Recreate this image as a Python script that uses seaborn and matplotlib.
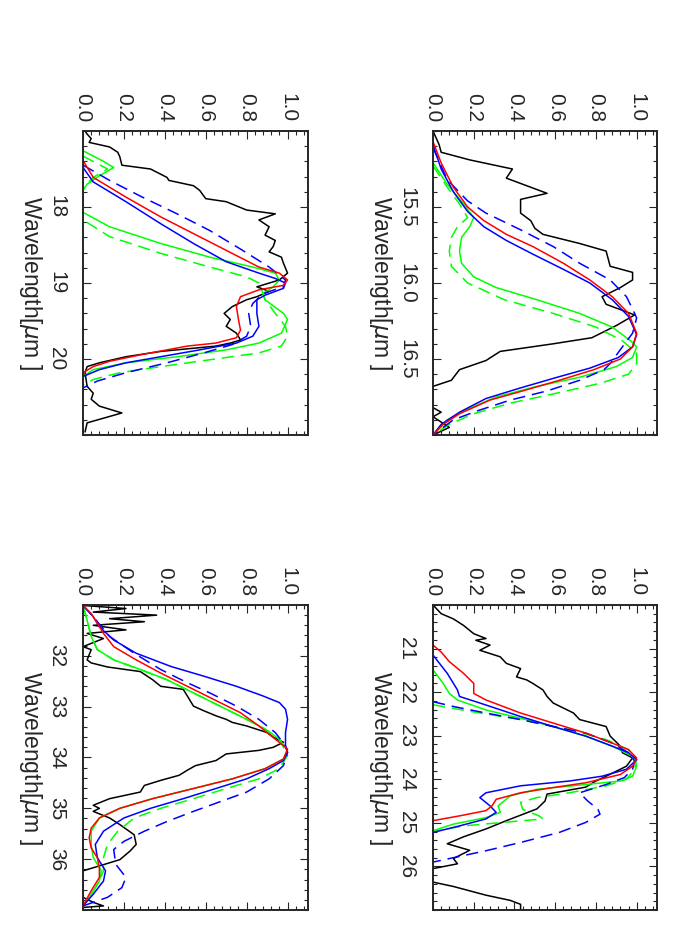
import matplotlib
matplotlib.use('Agg')
import matplotlib.pyplot as plt
from matplotlib.ticker import MultipleLocator, FormatStrFormatter
import seaborn as sns

sns.set_style('ticks')
plt.rcParams['font.family'] = ['Liberation Sans', 'DejaVu Sans']
plt.rcParams['mathtext.fontset'] = 'dejavusans'

# ---------------- 15-17 um panel ----------------
wl15_ticks = [15.5, 16.0, 16.5]
wl15_black = [15.00, 15.09, 15.14, 15.19, 15.25, 15.31, 15.41, 15.45, 15.54, 15.59, 15.64, 15.68,
              15.74, 15.79, 15.89, 15.93, 15.98, 16.03, 16.09, 16.14, 16.18, 16.21, 16.28, 16.36,
              16.40, 16.45, 16.51, 16.57, 16.64, 16.68, 16.82, 16.85, 16.88, 16.95, 17.00]
v15_black = [0.00, 0.03, 0.04, 0.18, 0.39, 0.36, 0.56, 0.43, 0.43, 0.48, 0.50, 0.54,
             0.72, 0.85, 0.87, 0.98, 0.98, 0.92, 0.83, 0.85, 0.93, 0.99, 0.90, 0.78,
             0.59, 0.33, 0.26, 0.13, 0.09, 0.00, 0.00, 0.04, 0.00, 0.08, 0.00]
wl15_red = [15.07, 15.21, 15.37, 15.50, 15.59, 15.68, 15.76, 15.87, 15.98, 16.09, 16.20, 16.33,
            16.42, 16.50, 16.57, 16.64, 16.71, 16.77, 16.86, 16.93, 17.00]
v15_red = [0.00, 0.04, 0.10, 0.17, 0.25, 0.36, 0.49, 0.64, 0.77, 0.88, 0.96, 1.00,
           0.98, 0.92, 0.79, 0.62, 0.44, 0.28, 0.13, 0.05, 0.00]
wl15_blue = [15.09, 15.25, 15.40, 15.53, 15.63, 15.72, 15.81, 15.91, 16.00, 16.11, 16.22, 16.34,
             16.42, 16.49, 16.56, 16.62, 16.69, 16.76, 16.85, 16.93, 17.00]
v15_blue = [0.00, 0.04, 0.10, 0.17, 0.25, 0.36, 0.49, 0.64, 0.77, 0.88, 0.96, 1.00,
            0.98, 0.91, 0.77, 0.61, 0.43, 0.26, 0.13, 0.04, 0.00]
wl15_blue_d = [15.11, 15.32, 15.46, 15.54, 15.65, 15.76, 15.87, 15.98, 16.09, 16.20, 16.23,
               16.33, 16.42, 16.53, 16.57, 16.64, 16.71, 16.77, 16.84, 16.90, 17.00]
v15_blue_d = [0.00, 0.07, 0.17, 0.26, 0.43, 0.59, 0.72, 0.87, 0.95, 0.99, 1.00,
              0.98, 0.93, 0.87, 0.84, 0.72, 0.56, 0.38, 0.22, 0.10, 0.00]
wl15_green = [15.21, 15.35, 15.48, 15.57, 15.63, 15.70, 15.79, 15.87, 15.96, 16.03, 16.11, 16.20,
              16.29, 16.38, 16.42, 16.49, 16.55, 16.62, 16.68, 16.75, 16.83, 16.90, 17.00]
v15_green = [0.00, 0.07, 0.15, 0.20, 0.18, 0.14, 0.13, 0.14, 0.20, 0.31, 0.51, 0.72,
             0.88, 0.97, 1.00, 0.98, 0.90, 0.72, 0.51, 0.31, 0.17, 0.07, 0.00]
wl15_green_d = [15.23, 15.37, 15.48, 15.57, 15.63, 15.70, 15.79, 15.89, 16.00, 16.11, 16.20,
                16.29, 16.38, 16.46, 16.53, 16.60, 16.66, 16.73, 16.79, 16.86, 16.93, 17.00]
v15_green_d = [0.00, 0.07, 0.13, 0.17, 0.12, 0.09, 0.08, 0.09, 0.17, 0.35, 0.59,
               0.80, 0.93, 1.00, 1.00, 0.96, 0.82, 0.59, 0.38, 0.20, 0.08, 0.00]

# ---------------- 17-21 um panel ----------------
wl19_ticks = [18, 19, 20]
wl19_black = [17.00, 17.04, 17.10, 17.15, 17.21, 17.28, 17.34, 17.45, 17.50, 17.61, 17.65, 17.72,
              17.78, 17.89, 17.93, 18.04, 18.09, 18.17, 18.26, 18.37, 18.44, 18.52, 18.59, 18.66,
              18.74, 18.87, 18.96, 19.05, 19.11, 19.18, 19.22, 19.31, 19.40, 19.48, 19.57, 19.66,
              19.75, 19.79, 19.83, 19.90, 19.97, 20.05, 20.10, 20.18, 20.36, 20.45, 20.53, 20.62,
              20.71, 20.84, 20.96]
v19_black = [0.01, 0.02, 0.04, 0.03, 0.13, 0.17, 0.18, 0.19, 0.33, 0.41, 0.42, 0.54,
             0.57, 0.60, 0.70, 0.80, 0.94, 0.86, 0.91, 0.89, 0.94, 0.93, 0.91, 0.97,
             0.98, 1.00, 0.96, 0.85, 0.91, 0.85, 0.80, 0.73, 0.69, 0.72, 0.70, 0.75,
             0.77, 0.72, 0.65, 0.38, 0.21, 0.08, 0.02, 0.01, 0.02, 0.05, 0.04, 0.08,
             0.19, 0.02, 0.01]
wl19_red = [17.39, 17.61, 17.87, 18.13, 18.35, 18.57, 18.79, 18.87, 18.96, 19.03, 19.09, 19.18,
            19.31, 19.48, 19.62, 19.72, 19.79, 19.83, 19.94, 20.03, 20.10, 20.18]
v19_red = [0.00, 0.05, 0.21, 0.38, 0.54, 0.70, 0.86, 0.96, 1.00, 0.98, 0.86, 0.77,
           0.75, 0.76, 0.77, 0.75, 0.65, 0.51, 0.29, 0.13, 0.05, 0.00]
wl19_blue = [17.48, 17.67, 17.93, 18.22, 18.48, 18.72, 18.87, 18.94, 19.00, 19.07, 19.16, 19.22,
             19.40, 19.57, 19.70, 19.79, 19.88, 19.97, 20.05, 20.14, 20.23]
v19_blue = [0.00, 0.05, 0.21, 0.38, 0.54, 0.70, 0.86, 0.94, 0.99, 0.98, 0.89, 0.85,
            0.85, 0.86, 0.83, 0.75, 0.57, 0.38, 0.21, 0.08, 0.00]
wl19_blue_d = [17.45, 17.65, 17.87, 18.09, 18.31, 18.57, 18.79, 18.96, 19.05, 19.14, 19.27,
               19.40, 19.57, 19.70, 19.81, 19.92, 20.05, 20.18, 20.29, 20.38]
v19_blue_d = [0.00, 0.13, 0.29, 0.46, 0.62, 0.78, 0.91, 0.99, 0.98, 0.88, 0.83,
              0.81, 0.82, 0.80, 0.73, 0.59, 0.41, 0.21, 0.07, 0.00]
wl19_green = [17.26, 17.40, 17.48, 17.59, 17.70, 17.78, 18.07, 18.26, 18.48, 18.66, 18.79, 18.87,
              18.96, 19.05, 19.14, 19.22, 19.40, 19.48, 19.66, 19.79, 19.88, 19.97, 20.05,
              20.14, 20.23]
v19_green = [0.00, 0.10, 0.15, 0.08, 0.02, 0.00, 0.00, 0.13, 0.38, 0.62, 0.83, 0.94,
             0.96, 0.93, 0.88, 0.89, 0.98, 1.00, 0.97, 0.86, 0.70, 0.46, 0.21,
             0.05, 0.00]
wl19_green_d = [17.33, 17.50, 17.61, 17.74, 18.17, 18.39, 18.61, 18.79, 18.92, 19.00, 19.14,
                19.22, 19.40, 19.57, 19.70, 19.83, 19.92, 20.01, 20.10, 20.18, 20.27, 20.34]
v19_green_d = [0.00, 0.12, 0.05, 0.00, 0.00, 0.13, 0.38, 0.62, 0.80, 0.86, 0.88,
               0.89, 0.94, 0.99, 1.00, 0.97, 0.86, 0.62, 0.38, 0.18, 0.05, 0.00]

# ---------------- 20-27 um panel ----------------
wl23_ticks = [21, 22, 23, 24, 25, 26]
wl23_black = [20.00, 20.05, 20.20, 20.32, 20.47, 20.66, 20.77, 20.81, 20.92, 21.04, 21.19, 21.34,
              21.46, 21.65, 21.72, 21.80, 21.95, 22.10, 22.25, 22.48, 22.63, 22.79, 23.01, 23.24,
              23.39, 23.51, 23.70, 23.93, 24.04, 24.18, 24.34, 24.50, 24.68, 24.95, 25.14, 25.32,
              25.48, 25.63, 25.82, 25.94, 26.05, 26.36, 26.46, 26.66, 26.78, 26.87, 26.99]
v23_black = [0.00, 0.01, 0.04, 0.10, 0.15, 0.20, 0.26, 0.21, 0.28, 0.23, 0.33, 0.36,
             0.43, 0.41, 0.46, 0.49, 0.54, 0.56, 0.59, 0.69, 0.72, 0.85, 0.87, 0.92,
             0.93, 0.98, 0.95, 0.85, 0.80, 0.75, 0.56, 0.55, 0.51, 0.36, 0.26, 0.15,
             0.07, 0.18, 0.10, 0.12, 0.00, 0.00, 0.10, 0.26, 0.38, 0.43, 0.43]
wl23_red = [20.92, 21.08, 21.30, 21.57, 21.80, 22.03, 22.18, 22.48, 22.71, 22.94, 23.17, 23.32,
            23.51, 23.70, 23.89, 24.08, 24.19, 24.31, 24.46, 24.61, 24.72, 24.84, 24.95]
v23_red = [0.00, 0.04, 0.08, 0.15, 0.20, 0.20, 0.26, 0.43, 0.59, 0.75, 0.88, 0.96,
           1.00, 0.98, 0.92, 0.75, 0.59, 0.43, 0.31, 0.29, 0.26, 0.13, 0.00]
wl23_blue = [21.15, 21.57, 21.95, 22.10, 22.25, 22.56, 22.79, 23.01, 23.24, 23.39, 23.55, 23.77,
             23.93, 24.04, 24.15, 24.31, 24.42, 24.61, 24.76, 24.91, 25.07, 25.22]
v23_blue = [0.00, 0.07, 0.12, 0.13, 0.23, 0.43, 0.59, 0.75, 0.88, 0.96, 1.00, 0.95,
            0.83, 0.67, 0.43, 0.26, 0.23, 0.28, 0.31, 0.26, 0.13, 0.00]
wl23_blue_d = [22.22, 22.33, 22.48, 22.63, 22.79, 22.94, 23.17, 23.39, 23.58, 23.77, 23.96,
               24.12, 24.31, 24.50, 24.69, 24.80, 24.99, 25.22, 25.45, 25.64, 25.75, 25.90]
v23_blue_d = [0.00, 0.10, 0.26, 0.43, 0.59, 0.75, 0.88, 0.96, 0.99, 0.98, 0.94,
              0.85, 0.72, 0.76, 0.81, 0.82, 0.75, 0.62, 0.43, 0.26, 0.15, 0.00]
wl23_green = [21.49, 21.80, 22.03, 22.18, 22.41, 22.60, 22.79, 23.01, 23.24, 23.47, 23.70, 23.93,
              24.04, 24.12, 24.23, 24.38, 24.61, 24.76, 24.88, 25.03, 25.18]
v23_green = [0.00, 0.05, 0.08, 0.12, 0.26, 0.43, 0.59, 0.75, 0.88, 0.98, 1.00, 0.98,
             0.92, 0.75, 0.51, 0.38, 0.32, 0.33, 0.26, 0.10, 0.00]
wl23_green_d = [22.29, 22.44, 22.63, 22.86, 23.09, 23.32, 23.55, 23.77, 24.00, 24.15, 24.31,
                24.42, 24.53, 24.69, 24.84, 24.91, 25.07, 25.20]
v23_green_d = [0.00, 0.18, 0.43, 0.67, 0.85, 0.96, 1.00, 0.99, 0.95, 0.85, 0.67,
               0.51, 0.43, 0.44, 0.52, 0.54, 0.15, 0.00]

# ---------------- 31-37 um panel ----------------
wl34_ticks = [32, 33, 34, 35, 36]
wl34_black = [31.01, 31.07, 31.14, 31.20, 31.27, 31.33, 31.40, 31.49, 31.56, 31.66, 31.82, 31.88,
              32.08, 32.14, 32.22, 32.31, 32.47, 32.60, 32.66, 32.79, 32.99, 33.08, 33.18, 33.25,
              33.31, 33.38, 33.51, 33.60, 33.70, 33.80, 33.86, 33.93, 34.06, 34.16, 34.25, 34.35,
              34.45, 34.55, 34.68, 34.81, 34.94, 35.00, 35.06, 35.19, 35.32, 35.52, 35.71, 35.84,
              36.01, 36.23, 36.75, 36.85, 36.92, 36.95]
v34_black = [0.00, 0.21, 0.05, 0.36, 0.13, 0.30, 0.05, 0.21, 0.02, 0.10, 0.00, 0.04,
             0.02, 0.04, 0.12, 0.28, 0.34, 0.38, 0.49, 0.51, 0.54, 0.59, 0.65, 0.70,
             0.73, 0.80, 0.90, 0.93, 0.98, 0.93, 0.86, 0.70, 0.65, 0.55, 0.51, 0.47,
             0.38, 0.30, 0.28, 0.13, 0.05, 0.08, 0.05, 0.13, 0.18, 0.25, 0.26, 0.23,
             0.18, 0.00, 0.00, 0.05, 0.10, 0.00]
wl34_red = [31.01, 31.17, 31.36, 31.56, 31.82, 32.08, 32.34, 32.60, 32.86, 33.12, 33.38, 33.64,
            33.83, 34.03, 34.22, 34.42, 34.61, 34.81, 35.00, 35.19, 35.39, 35.58, 35.78, 35.97,
            36.17, 36.36, 36.62, 36.92]
v34_red = [0.00, 0.04, 0.07, 0.10, 0.15, 0.26, 0.38, 0.51, 0.64, 0.77, 0.86, 0.94,
           1.00, 0.98, 0.89, 0.73, 0.54, 0.34, 0.18, 0.08, 0.04, 0.03, 0.04, 0.07,
           0.08, 0.08, 0.04, 0.00]
wl34_blue = [31.01, 31.23, 31.43, 31.69, 31.95, 32.21, 32.40, 32.60, 32.79, 32.92, 33.05, 33.25,
             33.51, 33.77, 33.90, 34.06, 34.22, 34.42, 34.61, 34.81, 35.00, 35.19, 35.45, 35.71,
             35.97, 36.23, 36.43, 36.69, 36.92]
v34_blue = [0.00, 0.05, 0.08, 0.15, 0.26, 0.43, 0.59, 0.75, 0.88, 0.96, 0.99, 1.00,
            0.99, 0.99, 1.00, 0.98, 0.91, 0.80, 0.65, 0.49, 0.33, 0.20, 0.10, 0.06,
            0.07, 0.11, 0.10, 0.05, 0.00]
wl34_blue_d = [31.01, 31.23, 31.62, 31.95, 32.27, 32.53, 32.73, 32.99, 33.25, 33.51, 33.77,
               33.90, 34.16, 34.42, 34.68, 34.87, 35.06, 35.26, 35.45, 35.65, 35.81, 36.10,
               36.36, 36.56, 36.75, 36.92]
v34_blue_d = [0.00, 0.05, 0.13, 0.25, 0.38, 0.51, 0.62, 0.75, 0.86, 0.94, 0.99,
              1.00, 0.98, 0.91, 0.80, 0.67, 0.54, 0.41, 0.30, 0.20, 0.15, 0.16,
              0.21, 0.19, 0.12, 0.00]
wl34_green = [31.01, 31.30, 31.62, 31.88, 32.08, 32.27, 32.47, 32.73, 32.99, 33.25, 33.44, 33.64,
              33.86, 34.03, 34.22, 34.42, 34.61, 34.81, 35.00, 35.19, 35.45, 35.71, 35.97,
              36.23, 36.43, 36.69, 36.92]
v34_green = [0.00, 0.02, 0.04, 0.07, 0.15, 0.28, 0.41, 0.54, 0.67, 0.80, 0.89, 0.96,
             1.00, 0.98, 0.89, 0.73, 0.54, 0.34, 0.18, 0.08, 0.04, 0.04, 0.05,
             0.09, 0.08, 0.04, 0.00]
wl34_green_d = [31.01, 31.30, 31.62, 31.88, 32.08, 32.27, 32.47, 32.73, 32.99, 33.25, 33.44,
                33.64, 33.96, 34.22, 34.42, 34.61, 34.81, 35.00, 35.19, 35.45, 35.71, 35.97,
                36.23, 36.43, 36.69, 36.92]
v34_green_d = [0.00, 0.02, 0.04, 0.07, 0.15, 0.28, 0.41, 0.54, 0.67, 0.80, 0.89,
               0.96, 1.00, 0.96, 0.86, 0.70, 0.54, 0.38, 0.25, 0.17, 0.12, 0.10,
               0.10, 0.08, 0.04, 0.00]

value_ticks = [0.0, 0.2, 0.4, 0.6, 0.8, 1.0]
wave_label = r'Wavelength[$\mu$m ]'
dash = (0, (8, 4.5))

panels = [
    # axes rect, wavelength range, labelled ticks, minor step, tick format, curves
    dict(rect=[0.6186, 0.5421, 0.3200, 0.3200], lim=(15, 17), ticks=wl15_ticks, minor=0.1, fmt='%.1f',
         curves=[(wl15_black, v15_black, 'black', '-'), (wl15_green_d, v15_green_d, '#00ff00', dash),
                 (wl15_green, v15_green, '#00ff00', '-'), (wl15_blue_d, v15_blue_d, '#0000ff', dash),
                 (wl15_blue, v15_blue, '#0000ff', '-'), (wl15_red, v15_red, '#ff0000', '-')]),
    dict(rect=[0.1186, 0.5421, 0.3214, 0.3200], lim=(17, 21), ticks=wl19_ticks, minor=0.2, fmt='%d',
         curves=[(wl19_black, v19_black, 'black', '-'), (wl19_green_d, v19_green_d, '#00ff00', dash),
                 (wl19_green, v19_green, '#00ff00', '-'), (wl19_blue_d, v19_blue_d, '#0000ff', dash),
                 (wl19_blue, v19_blue, '#0000ff', '-'), (wl19_red, v19_red, '#ff0000', '-')]),
    dict(rect=[0.6186, 0.0421, 0.3200, 0.3211], lim=(20, 27), ticks=wl23_ticks, minor=0.2, fmt='%d',
         curves=[(wl23_black, v23_black, 'black', '-'), (wl23_green_d, v23_green_d, '#00ff00', dash),
                 (wl23_green, v23_green, '#00ff00', '-'), (wl23_blue_d, v23_blue_d, '#0000ff', dash),
                 (wl23_blue, v23_blue, '#0000ff', '-'), (wl23_red, v23_red, '#ff0000', '-')]),
    dict(rect=[0.1186, 0.0421, 0.3214, 0.3211], lim=(31, 37), ticks=wl34_ticks, minor=0.2, fmt='%d',
         curves=[(wl34_black, v34_black, 'black', '-'), (wl34_green_d, v34_green_d, '#00ff00', dash),
                 (wl34_green, v34_green, '#00ff00', '-'), (wl34_blue_d, v34_blue_d, '#0000ff', dash),
                 (wl34_blue, v34_blue, '#0000ff', '-'), (wl34_red, v34_red, '#ff0000', '-')]),
]

fig = plt.figure(figsize=(7, 9.5), dpi=100)

for p in panels:
    ax = fig.add_axes(p['rect'])
    for wl, val, col, ls in p['curves']:
        sns.lineplot(x=val, y=wl, sort=False, estimator=None, color=col,
                     linestyle=ls, linewidth=1.1, ax=ax)
    ax.set_xlim(0, 1.1)
    ax.set_ylim(p['lim'][1], p['lim'][0])
    ax.set_xticks(value_ticks)
    ax.xaxis.set_minor_locator(MultipleLocator(0.04))
    ax.xaxis.set_major_formatter(FormatStrFormatter('%.1f'))
    ax.set_yticks(p['ticks'])
    ax.yaxis.set_minor_locator(MultipleLocator(p['minor']))
    ax.yaxis.set_major_formatter(FormatStrFormatter(p['fmt']))
    ax.tick_params(which='both', direction='in', top=True, bottom=True, left=True, right=True,
                   labeltop=True, labelbottom=False, labelleft=True, width=0.8, labelsize=15)
    ax.tick_params(which='major', length=6)
    ax.tick_params(which='minor', length=3)
    ax.tick_params(axis='x', labelrotation=-90, pad=6.5)
    ax.tick_params(axis='y', labelrotation=-90, pad=12)
    plt.setp(ax.get_yticklabels(), va='center')
    for s in ax.spines.values():
        s.set_linewidth(1.4)
    ax.set_xlabel('')
    ax.set_ylabel(wave_label, rotation=-90, fontsize=16.5, va='center', ha='center')
    ax.yaxis.set_label_coords(-0.235, 0.5)
    ax.grid(False)

fig.savefig('out.png', dpi=100)
